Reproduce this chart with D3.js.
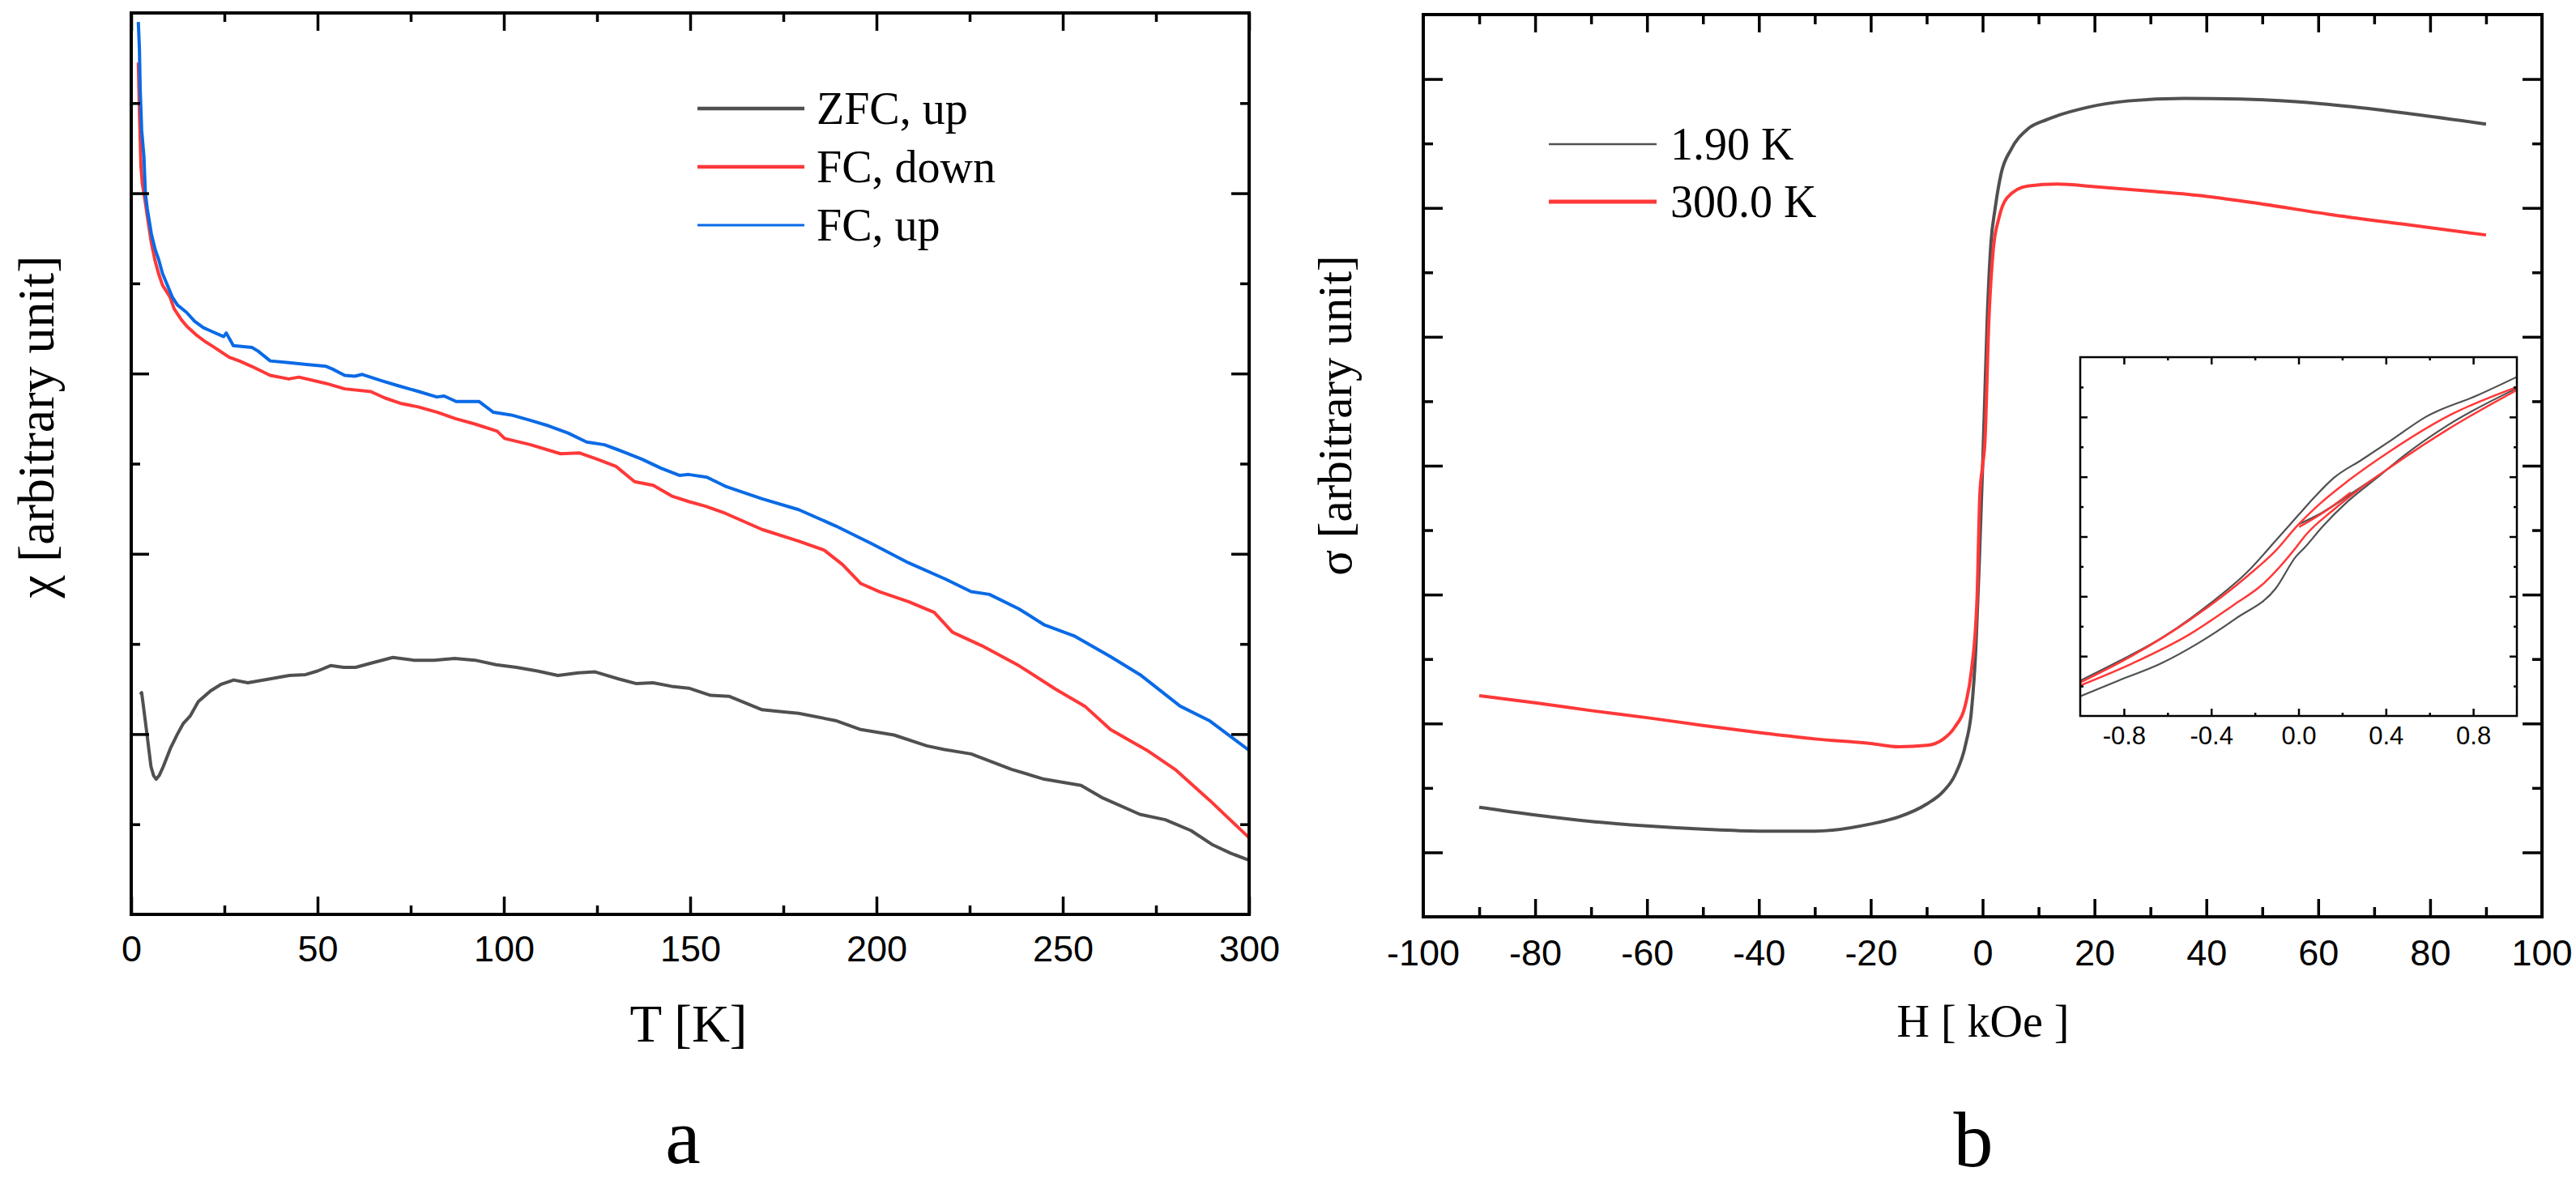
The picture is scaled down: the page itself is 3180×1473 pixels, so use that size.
<!DOCTYPE html>
<html>
<head>
<meta charset="utf-8">
<script src="https://cdn.jsdelivr.net/npm/d3@7"></script>
<style>
  html, body { margin: 0; padding: 0; background: #ffffff; }
  svg { display: block; }
</style>
</head>
<body>
<svg id="chart" width="3180" height="1473"></svg>
<script>
// ---------------- DATA: panel a (chi vs T) ----------------
const zfcT   = [2.4,2.8,3.3,4.1,5.3,6.0,6.7,7.5,8.6,10.5,12.4,14,15.8,18,21.3,24,27.5,31.3,36.9,42.4,46.8,50,53.5,57,60.2,64.6,70.2,75.7,81.2,86.8,92.3,97.9,103.4,109,114.5,120,124.5,131,135.6,140,145,149.6,155.5,160.4,169.3,174,179.1,189,195.8,204.7,213.5,218,225.4,236.2,245,254.9,260.8,270.7,277.5,284.4,290.3,295,300];
const zfcChi = [2.44,2.46,2.30,2.04,1.64,1.54,1.50,1.54,1.64,1.84,2.00,2.12,2.20,2.36,2.48,2.55,2.60,2.57,2.61,2.65,2.66,2.70,2.76,2.74,2.74,2.79,2.85,2.82,2.82,2.84,2.82,2.77,2.74,2.70,2.65,2.68,2.69,2.61,2.56,2.57,2.53,2.51,2.43,2.42,2.27,2.25,2.23,2.15,2.05,1.99,1.87,1.83,1.78,1.61,1.50,1.43,1.29,1.11,1.05,0.93,0.77,0.68,0.60];

const fcDownT   = [1.9,2.2,2.6,3.0,3.6,4.3,5.4,6.4,7.4,8.4,10.4,11.5,13.4,15,17.4,20,22.3,26.3,29,32.3,37.3,42.3,45,52.3,57.3,64.3,68,72.2,77,82.2,87,92.2,98.2,100.2,107.2,115.2,120.2,125,130.1,135.1,140.1,145.1,149.6,154,159.4,169.3,179.1,186,190.9,195.8,200.8,208.6,215.5,220.4,228.3,238.2,248,255.9,262.8,272.6,280.4,289.3,300];
const fcDownChi = [9.45,8.9,8.3,8.1,7.95,7.75,7.45,7.25,7.10,6.98,6.85,6.72,6.60,6.52,6.43,6.35,6.29,6.18,6.14,6.08,5.98,5.94,5.96,5.89,5.83,5.80,5.73,5.67,5.63,5.57,5.50,5.44,5.36,5.28,5.21,5.11,5.12,5.05,4.97,4.80,4.76,4.64,4.58,4.53,4.45,4.27,4.14,4.04,3.88,3.67,3.58,3.47,3.35,3.13,2.98,2.76,2.50,2.31,2.05,1.82,1.60,1.27,0.85];

const fcUpT   = [1.9,2.2,2.4,2.8,3.4,3.8,4.3,5.4,6.4,7.4,8.4,9.4,11,12.4,14.8,17,19.3,22,24.8,25.5,27.4,32.4,34,37.3,42.3,47,52.3,54,57.3,60,62,67.2,72,77.2,82,84,87.2,93.3,97.2,102,107.2,112,117.2,122.2,127,132.2,137,142.2,147.1,149.6,154.5,159.4,169.3,179.1,189,198.8,208.6,218.5,225.4,230.3,238.2,245.1,253,262.8,270.7,281.5,289.3,300];
const fcUpChi = [9.9,9.6,9.16,8.7,8.41,8.0,7.83,7.55,7.38,7.26,7.11,7.01,6.85,6.76,6.68,6.58,6.51,6.46,6.41,6.45,6.31,6.29,6.25,6.14,6.12,6.10,6.08,6.05,5.98,5.97,5.99,5.92,5.86,5.80,5.74,5.75,5.69,5.69,5.57,5.54,5.48,5.42,5.34,5.24,5.21,5.13,5.05,4.95,4.87,4.88,4.85,4.75,4.61,4.49,4.31,4.11,3.90,3.72,3.58,3.55,3.39,3.21,3.09,2.86,2.66,2.31,2.15,1.82];

const tMajorTicks = [0,50,100,150,200,250,300];
const tMinorTicks = [25,75,125,175,225,275];
const chiMajorTicks = [2,4,6,8];
const chiMinorTicks = [1,3,5,7,9];
const legendA = ["ZFC, up", "FC, down", "FC, up"];

// ---------------- DATA: panel b (sigma vs H) ----------------
const h190 = [-90,-80,-70,-60,-50,-40,-30,-20,-15,-10,-7,-5,-3,-2,-1.2,-0.6,0,0.4,0.8,1.5,2.2,3.3,5.1,8,11.5,18.7,26,36,46,56,66,75.7,90];
const s190 = [-5.30,-5.42,-5.52,-5.59,-5.64,-5.67,-5.67,-5.56,-5.45,-5.25,-5.05,-4.81,-4.31,-3.81,-2.81,-1.50,0,1.10,2.22,3.47,3.97,4.53,4.91,5.22,5.37,5.56,5.66,5.70,5.69,5.65,5.57,5.47,5.30];
const h300 = [-90,-80,-70,-60,-50,-40,-30,-20,-15,-10,-7,-5,-3,-2,-1,-0.5,0,0.4,1.1,1.9,2.9,4.4,8,13.4,20,30,40,50,62,75,90];
const s300 = [-3.57,-3.68,-3.80,-3.91,-4.03,-4.14,-4.24,-4.31,-4.36,-4.34,-4.24,-4.06,-3.68,-3.18,-2.06,-0.45,0,0.35,2.22,3.35,3.84,4.16,4.34,4.37,4.33,4.26,4.18,4.06,3.90,3.75,3.58];

const hMajorTicks = [-100,-80,-60,-40,-20,0,20,40,60,80,100];
const hMinorTicks = [-90,-70,-50,-30,-10,10,30,50,70,90];
const sMajorTicks = [-6,-4,-2,0,2,4,6];
const sMinorTicks = [-5,-3,-1,1,3,5];
const legendB = ["1.90 K", "300.0 K"];

// inset loops (H in kOe, sigma in arbitrary units)
const in190UpH = [-1,-0.826,-0.629,-0.405,-0.234,-0.103,0.003,0.068,0.161,0.292,0.424,0.582,0.818,1.0];
const in190UpS = [-2.41,-2.09,-1.70,-1.12,-0.59,-0.06,0.375,0.64,0.98,1.29,1.61,2.00,2.36,2.67];
const in190LoH = [-1,-0.826,-0.629,-0.458,-0.287,-0.103,-0.011,0.029,0.108,0.226,0.358,0.489,0.687,1.0];
const in190LoS = [-2.67,-2.41,-2.12,-1.78,-1.37,-0.86,-0.33,-0.18,0.16,0.59,0.98,1.37,1.87,2.48];
const in190VirH = [0.003,0.108,0.239,0.371];
const in190VirS = [0.21,0.40,0.71,1.03];
const in300UpH = [-1,-0.761,-0.497,-0.234,-0.103,-0.011,0.095,0.226,0.424,0.687,1.0];
const in300UpS = [-2.44,-1.99,-1.39,-0.66,-0.23,0.16,0.54,0.93,1.44,2.02,2.50];
const in300LoH = [-1,-0.761,-0.497,-0.3,-0.168,-0.011,0.029,0.161,0.292,0.424,0.687,1.0];
const in300LoS = [-2.49,-2.12,-1.63,-1.15,-0.81,-0.18,0.01,0.45,0.83,1.17,1.80,2.45];
const in300VirH = [0.003,0.121,0.239];
const in300VirS = [0.16,0.42,0.74];

const inXMajorTicks = [-0.8,-0.4,0,0.4,0.8];
const inXMinorTicks = [-0.6,-0.2,0.2,0.6];
const inYMajorTicks = [-2,-1,0,1,2];
const inYMinorTicks = [-2.5,-1.5,-0.5,0.5,1.5,2.5];

// ---------------- STYLE ----------------
const COL_GRAY = "#505050", COL_RED = "#ff3838", COL_BLUE = "#0a6ae6";
const SERIF = "'Liberation Serif','Times New Roman',serif";
const SANS = "'Liberation Sans',Arial,sans-serif";
// hyphen-minus as in the reference, instead of d3's typographic minus
const fmtInt = v => d3.format("d")(v).replace("\u2212", "-");
const fmt1 = v => d3.format(".1f")(v).replace("\u2212", "-");

const svg = d3.select("#chart");

function drawAxes(g, x, y, w, h, c) {
  const styleAxis = sel => {
    sel.select(".domain").remove();
    sel.selectAll(".tick line").attr("stroke", "#000").attr("stroke-width", c.tickW);
    sel.selectAll(".tick text").attr("font-family", SANS).attr("font-size", c.fs).attr("fill", "#000");
  };
  g.append("g").attr("transform", `translate(0,${h})`)
    .call(d3.axisBottom(x).tickValues(c.xMajor).tickSizeInner(-c.xL).tickSizeOuter(0).tickPadding(c.pad).tickFormat(c.fmt)).call(styleAxis);
  g.append("g").attr("transform", `translate(0,${h})`)
    .call(d3.axisBottom(x).tickValues(c.xMinor).tickSizeInner(-c.xl).tickSizeOuter(0).tickFormat("")).call(styleAxis);
  g.append("g").call(d3.axisTop(x).tickValues(c.xMajor).tickSizeInner(-c.xL).tickSizeOuter(0).tickFormat("")).call(styleAxis);
  g.append("g").call(d3.axisTop(x).tickValues(c.xMinor).tickSizeInner(-c.xl).tickSizeOuter(0).tickFormat("")).call(styleAxis);
  g.append("g").call(d3.axisLeft(y).tickValues(c.yMajor).tickSizeInner(-c.yL).tickSizeOuter(0).tickFormat("")).call(styleAxis);
  g.append("g").call(d3.axisLeft(y).tickValues(c.yMinor).tickSizeInner(-c.yl).tickSizeOuter(0).tickFormat("")).call(styleAxis);
  g.append("g").attr("transform", `translate(${w},0)`)
    .call(d3.axisRight(y).tickValues(c.yMajor).tickSizeInner(-c.yL).tickSizeOuter(0).tickFormat("")).call(styleAxis);
  g.append("g").attr("transform", `translate(${w},0)`)
    .call(d3.axisRight(y).tickValues(c.yMinor).tickSizeInner(-c.yl).tickSizeOuter(0).tickFormat("")).call(styleAxis);
  g.append("rect").attr("x", 0).attr("y", 0).attr("width", w).attr("height", h)
    .attr("fill", "none").attr("stroke", "#000").attr("stroke-width", c.frameW);
}

// ================= PANEL A =================
{
  const L = 162, T = 16, W = 1542 - 162, H = 1129 - 16;
  const g = svg.append("g").attr("transform", `translate(${L},${T})`);
  const x = d3.scaleLinear().domain([0, 300]).range([0, W]);
  const y = d3.scaleLinear().domain([0, 10]).range([H, 0]);

  g.append("clipPath").attr("id", "clipA").append("rect").attr("width", W).attr("height", H);
  const line = d3.line().x(d => x(d[0])).y(d => y(d[1]));
  const series = [
    [zfcT, zfcChi, COL_GRAY],
    [fcDownT, fcDownChi, COL_RED],
    [fcUpT, fcUpChi, COL_BLUE]
  ];
  const cg = g.append("g").attr("clip-path", "url(#clipA)");
  series.forEach(([xs, ys, col]) => {
    cg.append("path").datum(d3.zip(xs, ys)).attr("d", line)
      .attr("fill", "none").attr("stroke", col).attr("stroke-width", 4).attr("stroke-linejoin", "round");
  });

  drawAxes(g, x, y, W, H, {
    xMajor: tMajorTicks, xMinor: tMinorTicks, yMajor: chiMajorTicks, yMinor: chiMinorTicks,
    xL: 22, xl: 11, yL: 22, yl: 11, tickW: 3.5, frameW: 4, fs: 45, pad: 26, fmt: fmtInt
  });

  const lg = svg.append("g");
  const legY = [134, 206, 278];
  [COL_GRAY, COL_RED, COL_BLUE].forEach((col, i) => {
    lg.append("line").attr("x1", 861).attr("x2", 993).attr("y1", legY[i]).attr("y2", legY[i])
      .attr("stroke", col).attr("stroke-width", i === 2 ? 3 : 4.5);
    lg.append("text").attr("x", 1008).attr("y", legY[i] + 19).text(legendA[i])
      .attr("font-family", SERIF).attr("font-size", 56).attr("fill", "#000");
  });

  svg.append("text").attr("x", 850).attr("y", 1286).attr("text-anchor", "middle")
    .attr("font-family", SERIF).attr("font-size", 65).text("T [K]");
  svg.append("text").attr("transform", "translate(66,527) rotate(-90)").attr("text-anchor", "middle")
    .attr("font-family", SERIF).attr("font-size", 64).text("χ [arbitrary unit]");
  svg.append("text").attr("x", 843).attr("y", 1436).attr("text-anchor", "middle")
    .attr("font-family", SERIF).attr("font-size", 98).text("a");
}

// ================= PANEL B =================
{
  const L = 1757, T = 18, W = 3138 - 1757, H = 1132 - 18;
  const g = svg.append("g").attr("transform", `translate(${L},${T})`);
  const x = d3.scaleLinear().domain([-100, 100]).range([0, W]);
  const y = d3.scaleLinear().domain([-7, 7]).range([H, 0]);
  const line = d3.line().x(d => x(d[0])).y(d => y(d[1])).curve(d3.curveMonotoneX);

  g.append("path").datum(d3.zip(h190, s190)).attr("d", line)
    .attr("fill", "none").attr("stroke", COL_GRAY).attr("stroke-width", 4);
  g.append("path").datum(d3.zip(h300, s300)).attr("d", line)
    .attr("fill", "none").attr("stroke", COL_RED).attr("stroke-width", 4);

  drawAxes(g, x, y, W, H, {
    xMajor: hMajorTicks.filter(v => Math.abs(v) < 100), xMinor: hMinorTicks, yMajor: sMajorTicks, yMinor: sMinorTicks,
    xL: 22, xl: 12, yL: 24, yl: 12, tickW: 3.5, frameW: 4, fs: 45, pad: 28, fmt: fmtInt
  });
  [-100, 100].forEach(v => {
    g.append("text").attr("x", x(v)).attr("y", H + 28).attr("dy", "0.71em").attr("text-anchor", "middle")
      .attr("font-family", SANS).attr("font-size", 45).text(fmtInt(v));
  });

  const legY = [178, 249];
  [COL_GRAY, COL_RED].forEach((col, i) => {
    svg.append("line").attr("x1", 1912).attr("x2", 2045).attr("y1", legY[i]).attr("y2", legY[i])
      .attr("stroke", col).attr("stroke-width", i === 0 ? 2.5 : 5);
    svg.append("text").attr("x", 2062).attr("y", legY[i] + 19).text(legendB[i])
      .attr("font-family", SERIF).attr("font-size", 56).attr("fill", "#000");
  });

  svg.append("text").attr("x", 2448).attr("y", 1280).attr("text-anchor", "middle")
    .attr("font-family", SERIF).attr("font-size", 56).text("H [ kOe ]");
  svg.append("text").attr("transform", "translate(1668,513) rotate(-90)").attr("text-anchor", "middle")
    .attr("font-family", SERIF).attr("font-size", 59).text("σ [arbitrary unit]");
  svg.append("text").attr("x", 2436).attr("y", 1440).attr("text-anchor", "middle")
    .attr("font-family", SERIF).attr("font-size", 98).text("b");

  // ---------- inset ----------
  const IL = 2568, IT = 441, IW = 3107 - 2568, IH = 884 - 441;
  const ig = svg.append("g").attr("transform", `translate(${IL},${IT})`);
  ig.append("rect").attr("width", IW).attr("height", IH).attr("fill", "#fff");
  const ix = d3.scaleLinear().domain([-1, 1]).range([0, IW]);
  const iy = d3.scaleLinear().domain([-3, 3]).range([IH, 0]);
  ig.append("clipPath").attr("id", "clipI").append("rect").attr("width", IW).attr("height", IH);
  const iline = d3.line().x(d => ix(d[0])).y(d => iy(d[1])).curve(d3.curveMonotoneX);
  const icg = ig.append("g").attr("clip-path", "url(#clipI)");
  [
    [in190UpH, in190UpS, COL_GRAY, 2.2],
    [in190LoH, in190LoS, COL_GRAY, 2.2],
    [in190VirH, in190VirS, COL_GRAY, 2.5],
    [in300UpH, in300UpS, COL_RED, 2.5],
    [in300LoH, in300LoS, COL_RED, 2.5],
    [in300VirH, in300VirS, COL_RED, 2.5]
  ].forEach(([xs, ys, col, sw]) => {
    icg.append("path").datum(d3.zip(xs, ys)).attr("d", iline)
      .attr("fill", "none").attr("stroke", col).attr("stroke-width", sw);
  });
  drawAxes(ig, ix, iy, IW, IH, {
    xMajor: inXMajorTicks, xMinor: inXMinorTicks, yMajor: inYMajorTicks, yMinor: inYMinorTicks,
    xL: 9, xl: 4, yL: 9, yl: 4, tickW: 2.5, frameW: 2.5, fs: 31, pad: 13, fmt: fmt1
  });
}
</script>
</body>
</html>
